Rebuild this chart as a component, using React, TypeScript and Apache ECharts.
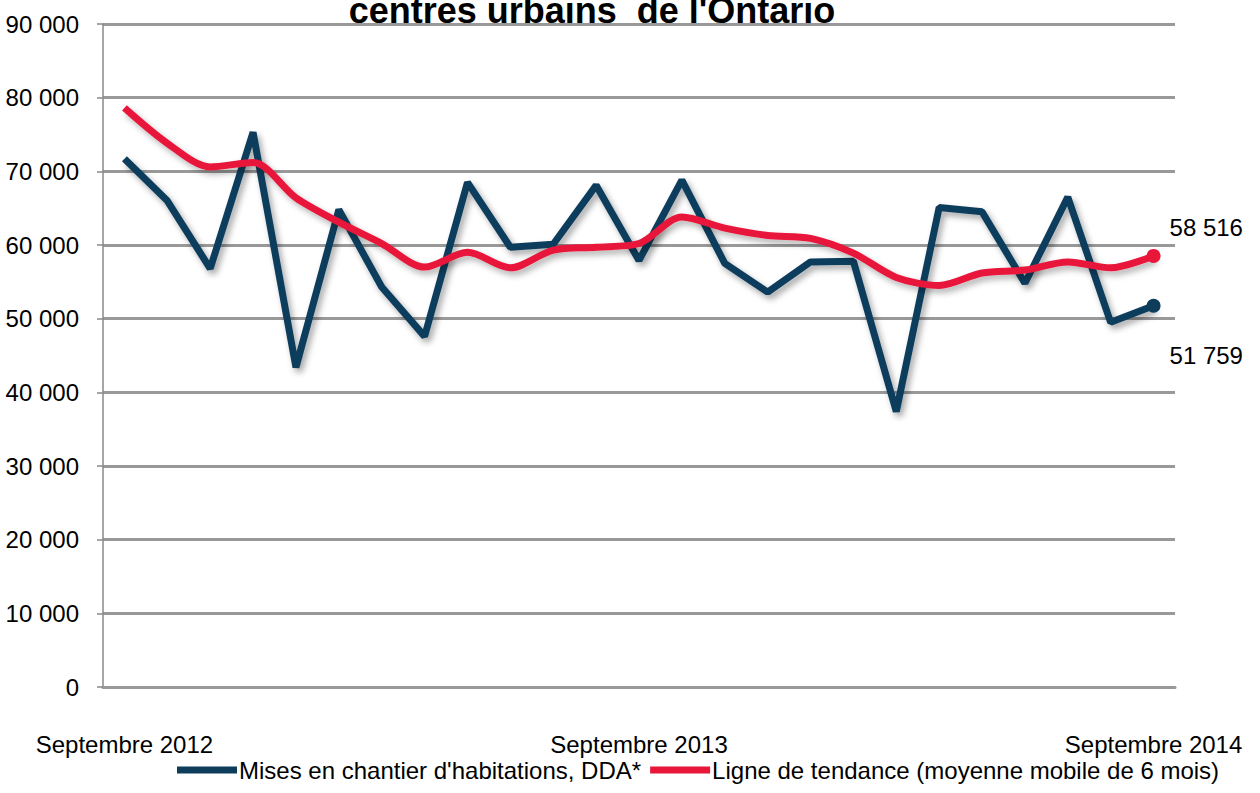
import React, { useEffect, useRef } from "react";
import * as echarts from "echarts";

const months = [
  "Septembre 2012", "Octobre 2012", "Novembre 2012", "Décembre 2012", "Janvier 2013", "Février 2013",
  "Mars 2013", "Avril 2013", "Mai 2013", "Juin 2013", "Juillet 2013", "Août 2013",
  "Septembre 2013", "Octobre 2013", "Novembre 2013", "Décembre 2013", "Janvier 2014", "Février 2014",
  "Mars 2014", "Avril 2014", "Mai 2014", "Juin 2014", "Juillet 2014", "Août 2014", "Septembre 2014",
];
const shownLabels = ["Septembre 2012", "Septembre 2013", "Septembre 2014"];

const starts = [
  71700, 66000, 56800, 75300, 43400, 64800, 54300, 47600, 68500, 59700, 60100, 68100,
  57900, 68800, 57500, 53600, 57700, 57800, 37400, 65100, 64500, 54800, 66500, 49500, 51759,
];
const trend = [
  78600, 73800, 70600, 71200, 66400, 63100, 60200, 57000, 59000, 56900, 59300, 59700,
  60200, 63800, 62300, 61300, 60900, 58900, 55600, 54500, 56200, 56600, 57700, 56900, 58516,
];
const yTicks = [0, 10000, 20000, 30000, 40000, 50000, 60000, 70000, 80000, 90000];

const title = "centres urbains  de l'Ontario";
const seriesNames = ["Mises en chantier d'habitations, DDA*", "Ligne de tendance (moyenne mobile de 6 mois)"];

const FONT = "'Liberation Sans Narrow', 'Liberation Sans', Arial, sans-serif";
const FS = 24;
const BLUE = "#0e3d5c";
const RED = "#e8173a";

const fmt = (v: number) => {
  const s = String(Math.round(v));
  return s.replace(/\B(?=(\d{3})+(?!\d))/g, " ");
};

export default function App() {
  const ref = useRef<HTMLDivElement>(null);
  useEffect(() => {
    if (!ref.current) return;
    const chart = echarts.init(ref.current, null, { renderer: "svg" });
    const lastIdx = months.length - 1;
    const mkData = (arr: number[], labelOffset: number[], color: string) =>
      arr.map((v, i) =>
        i === lastIdx
          ? {
              value: v,
              symbol: "circle",
              symbolSize: 14,
              itemStyle: { color },
              label: {
                show: true,
                position: "right",
                offset: labelOffset,
                formatter: () => fmt(v),
                fontFamily: FONT,
                fontSize: FS,
                color: "#000",
              },
            }
          : { value: v, symbol: "none" }
      );
    chart.setOption({
      animation: false,
      backgroundColor: "#fff",
      textStyle: { fontFamily: FONT },
      graphic: [
        {
          type: "text",
          x: 592,
          y: 28,
          style: {
            text: title,
            textAlign: "center",
            textVerticalAlign: "bottom",
            font: `bold 36px ${FONT}`,
            fill: "#000",
          },
        },
      ],
      grid: { left: 103, right: 85, top: 24, bottom: 106, containLabel: false },
      legend: {
        bottom: 6,
        left: 172,
        itemWidth: 60,
        itemHeight: 7,
        itemGap: 9,
        icon: "rect",
        textStyle: { fontFamily: FONT, fontSize: FS, color: "#000", padding: [0, 0, 0, -3] },
        data: [
          { name: seriesNames[0], itemStyle: { color: BLUE } },
          { name: seriesNames[1], itemStyle: { color: RED } },
        ],
      },
      xAxis: {
        type: "category",
        data: months,
        boundaryGap: true,
        axisLine: { lineStyle: { color: "#999", width: 3 } },
        axisTick: { show: false },
        axisLabel: {
          interval: 0,
          margin: 45,
          fontFamily: FONT,
          fontSize: FS,
          color: "#000",
          formatter: (v: string) => (shownLabels.includes(v) ? v : ""),
        },
        splitLine: { show: false },
      },
      yAxis: {
        type: "value",
        min: yTicks[0],
        max: yTicks[yTicks.length - 1],
        interval: yTicks[1] - yTicks[0],
        axisLine: { show: true, lineStyle: { color: "#888", width: 1.5 } },
        axisTick: { show: true, length: 6, lineStyle: { color: "#888", width: 1.5 } },
        axisLabel: { margin: 24, fontFamily: FONT, fontSize: FS, color: "#000", formatter: (v: number) => fmt(v) },
        splitLine: { show: true, lineStyle: { color: "#999", width: 3 } },
      },
      series: [
        {
          name: seriesNames[0],
          type: "line",
          data: mkData(starts, [4, 50], BLUE),
          smooth: false,
          lineStyle: {
            color: BLUE,
            width: 7,
            shadowColor: "rgba(0,0,0,0.35)",
            shadowBlur: 6,
            shadowOffsetX: 3,
            shadowOffsetY: 4,
          },
          itemStyle: { color: BLUE },
          z: 2,
        },
        {
          name: seriesNames[1],
          type: "line",
          data: mkData(trend, [4, -28], RED),
          smooth: 0.3,
          lineStyle: {
            color: RED,
            width: 7,
            shadowColor: "rgba(0,0,0,0.3)",
            shadowBlur: 6,
            shadowOffsetX: 3,
            shadowOffsetY: 4,
          },
          itemStyle: { color: RED },
          z: 3,
        },
      ],
    });
    return () => chart.dispose();
  }, []);
  return <div ref={ref} style={{ width: 1260, height: 793, position: "absolute", left: 0, top: 0 }} />;
}
